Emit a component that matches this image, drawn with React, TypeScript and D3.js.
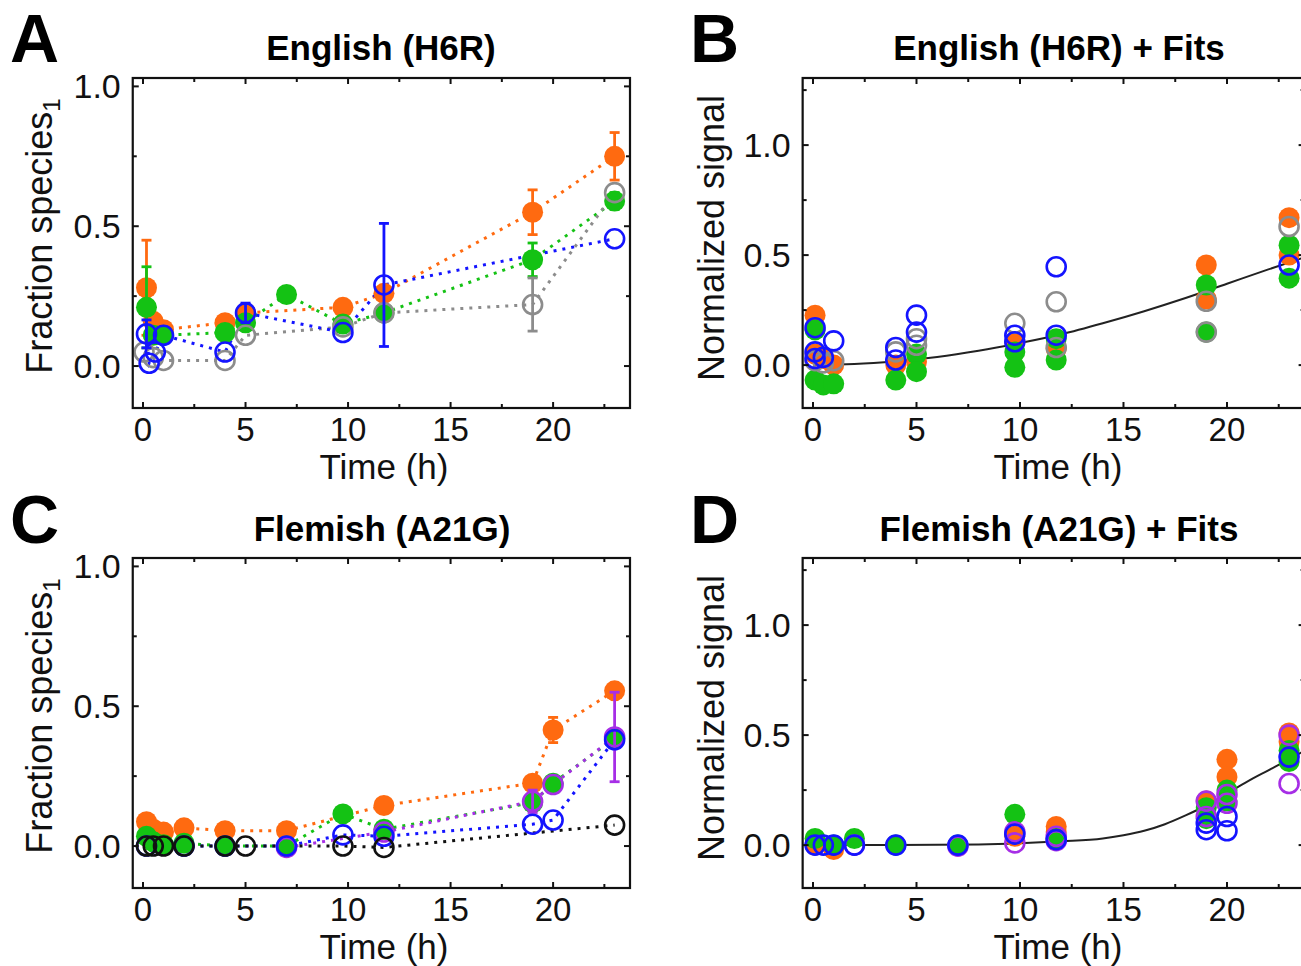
import React from "react";
import * as d3 from "d3";

const FONT = "'Liberation Sans', Arial, Helvetica, sans-serif";

const ORANGE = "#ff6a10";
const GREEN = "#14c214";
const BLUE = "#1414ff";
const GRAY = "#8c8c8c";
const PURPLE = "#a62ee6";
const BLACK = "#111111";

// ---------- Panel A : English (H6R) ----------
const aOrangeT = [0.17, 0.5, 1, 4, 5, 9.75, 11.75, 19, 23];
const aOrangeV = [0.28, 0.16, 0.13, 0.155, 0.19, 0.21, 0.26, 0.55, 0.75];
const aOrangeE = [0.17, 0, 0, 0, 0, 0, 0, 0.08, 0.085];
const aGreenT = [0.17, 0.5, 1, 4, 5, 7, 9.75, 11.75, 19, 23];
const aGreenV = [0.21, 0.11, 0.11, 0.12, 0.155, 0.256, 0.15, 0.19, 0.38, 0.59];
const aGreenE = [0.145, 0, 0, 0, 0.02, 0, 0, 0, 0.06, 0.03];
const aGrayT = [0.05, 0.5, 1, 4, 5, 9.75, 11.75, 19, 23];
const aGrayV = [0.05, 0.03, 0.02, 0.02, 0.11, 0.14, 0.19, 0.22, 0.62];
const aGrayE = [0, 0, 0, 0, 0, 0, 0, 0.095, 0];
const aBlueT = [0.17, 0.3, 0.6, 1, 4, 5, 9.75, 11.75, 23];
const aBlueV = [0.115, 0.01, 0.05, 0.11, 0.05, 0.19, 0.12, 0.29, 0.455];
const aBlueE = [0.05, 0, 0, 0, 0, 0.035, 0, 0.22, 0];

// ---------- Panel B : English (H6R) + Fits ----------
const bOrangeT = [0.1, 0.1, 0.5, 1, 4, 5, 9.75, 11.75, 19, 19, 23, 23];
const bOrangeV = [0.227, 0.05, 0.03, 0.0, 0.0, 0.015, 0.105, 0.076, 0.455, 0.3, 0.67, 0.5];
const bGreenT = [0.1, 0.1, 0.5, 1, 4, 5, 5, 9.75, 9.75, 11.75, 11.75, 19, 19, 23, 23];
const bGreenV = [0.16, -0.068, -0.09, -0.085, -0.068, 0.05, -0.03, 0.06, -0.01, 0.12, 0.023, 0.364, 0.15, 0.545, 0.395];
const bGrayT = [0.1, 0.5, 1, 4, 5, 5, 9.75, 11.75, 11.75, 19, 19, 23];
const bGrayV = [0.02, 0.01, 0.02, 0.06, 0.12, 0.09, 0.19, 0.288, 0.08, 0.29, 0.15, 0.63];
const bBlueT = [0.1, 0.1, 0.1, 0.5, 1, 4, 4, 5, 5, 9.75, 9.75, 11.75, 11.75, 23];
const bBlueV = [0.17, 0.06, 0.03, 0.035, 0.11, 0.08, 0.023, 0.227, 0.15, 0.136, 0.106, 0.447, 0.136, 0.455];
const bFitT = [0, 2, 4, 6, 8, 10, 12, 14, 16, 18, 20, 22, 23.75];
const bFitV = [0, 0.005, 0.018, 0.037, 0.065, 0.1, 0.14, 0.19, 0.245, 0.305, 0.37, 0.435, 0.49];

// ---------- Panel C : Flemish (A21G) ----------
const cOrangeT = [0.17, 0.5, 1, 2, 4, 7, 11.75, 19, 20, 23];
const cOrangeV = [0.087, 0.06, 0.05, 0.065, 0.055, 0.055, 0.145, 0.225, 0.415, 0.555];
const cOrangeE = [0, 0, 0, 0, 0, 0, 0, 0, 0.045, 0];
const cGreenT = [0.17, 0.5, 1, 2, 4, 7, 9.75, 11.75, 19, 20, 23];
const cGreenV = [0.035, 0.015, 0.005, 0.01, 0.0, 0.0, 0.115, 0.06, 0.155, 0.225, 0.385];
const cPurpleT = [7, 11.75, 19, 20, 23];
const cPurpleV = [-0.005, 0.05, 0.16, 0.22, 0.39];
const cPurpleE = [0, 0, 0.04, 0, 0.16];
const cBlueT = [0.17, 2, 4, 7, 9.75, 11.75, 19, 20, 23];
const cBlueV = [0, 0, 0, 0, 0.04, 0.035, 0.078, 0.093, 0.38];
const cBlackT = [0.17, 0.5, 1, 2, 4, 5, 9.75, 11.75, 23];
const cBlackV = [0, 0, 0, 0, 0, 0, 0.0, -0.005, 0.075];

// ---------- Panel D : Flemish (A21G) + Fits ----------
const dOrangeT = [0.1, 1, 9.75, 11.75, 11.75, 19, 20, 20, 23, 23];
const dOrangeV = [0.0, -0.02, 0.04, 0.085, 0.06, 0.2, 0.39, 0.31, 0.51, 0.47];
const dGreenT = [0.1, 1, 2, 4, 7, 9.75, 11.75, 19, 19, 20, 20, 23, 23];
const dGreenV = [0.03, 0.0, 0.03, 0.0, 0.0, 0.14, 0.03, 0.17, 0.12, 0.25, 0.2, 0.43, 0.38];
const dPurpleT = [2, 7, 9.75, 9.75, 11.75, 11.75, 19, 19, 20, 20, 23, 23];
const dPurpleV = [0.0, -0.005, 0.06, 0.01, 0.04, 0.02, 0.2, 0.13, 0.23, 0.19, 0.5, 0.28];
const dBlueT = [0.1, 0.5, 1, 2, 4, 7, 9.75, 11.75, 19, 19, 20, 20, 23];
const dBlueV = [0.0, 0.0, 0.0, 0.0, 0.0, 0.0, 0.05, 0.025, 0.07, 0.1, 0.13, 0.065, 0.4];
const dFitT = [0, 4, 8, 10, 12, 14, 15, 16, 17, 18, 19, 20, 21, 22, 23, 23.75];
const dFitV = [0, 0, 0.003, 0.008, 0.017, 0.03, 0.045, 0.065, 0.095, 0.135, 0.18, 0.235, 0.29, 0.34, 0.39, 0.43];

// ---------- Axes ----------
const xMajorTicks = [0, 5, 10, 15, 20];
const xMinorTicks = [2.5, 7.5, 12.5, 17.5, 22.5];
const fracMajorTicks = [0, 0.5, 1.0];
const fracMinorTicks = [0.25, 0.75];
const normMajorTicks = [0, 0.5, 1.0];
const normMinorTicks = [0.25, 0.75, 1.25];

type Series = {
  t: number[];
  v: number[];
  e?: number[];
  color: string;
  filled: boolean;
  connect: boolean;
};

type PanelCfg = {
  xRange: [number, number];
  yRange: [number, number];
  xDomain: [number, number];
  yDomain: [number, number];
  yMajor: number[];
  yMinor: number[];
  title: string;
  titleX: number;
  titleY: number;
  letter: string;
  letterX: number;
  letterY: number;
  yLabel: string;
  ySub?: string;
  yLabelX: number;
  yLabelY: number;
  xLabelX: number;
  xLabelY: number;
  series: Series[];
  fitT?: number[];
  fitV?: number[];
};

const Panel: React.FC<{ cfg: PanelCfg }> = ({ cfg }) => {
  const x = d3.scaleLinear().domain(cfg.xDomain).range(cfg.xRange);
  const y = d3.scaleLinear().domain(cfg.yDomain).range(cfg.yRange);
  const [L, R] = cfg.xRange;
  const [B, T] = cfg.yRange;
  const lineGen = d3
    .line<[number, number]>()
    .x((d) => x(d[0]))
    .y((d) => y(d[1]));
  const fitGen = d3
    .line<[number, number]>()
    .x((d) => x(d[0]))
    .y((d) => y(d[1]))
    .curve(d3.curveMonotoneX);

  const tickW = 2;
  const major = 6;
  const minor = 4;

  return (
    <g>
      <text x={cfg.letterX} y={cfg.letterY} fontSize={68} fontWeight="bold" fontFamily={FONT}>
        {cfg.letter}
      </text>
      <text x={cfg.titleX} y={cfg.titleY} fontSize={35} fontWeight="bold" fontFamily={FONT} textAnchor="middle">
        {cfg.title}
      </text>

      {cfg.series
        .filter((s) => s.connect)
        .map((s, i) => (
          <path
            key={"l" + i}
            d={lineGen(s.t.map((t, j) => [t, s.v[j]] as [number, number])) || ""}
            fill="none"
            stroke={s.color}
            strokeWidth={3}
            strokeDasharray="3 6"
          />
        ))}

      {cfg.fitT && cfg.fitV && (
        <path
          d={fitGen(cfg.fitT.map((t, j) => [t, cfg.fitV![j]] as [number, number])) || ""}
          fill="none"
          stroke="#222"
          strokeWidth={2}
        />
      )}

      {cfg.series.map((s, i) => (
        <g key={"s" + i}>
          {s.e &&
            s.t.map((t, j) =>
              s.e![j] > 0 ? (
                <g key={"e" + j} stroke={s.color} strokeWidth={2.8}>
                  <line x1={x(t)} x2={x(t)} y1={y(s.v[j] - s.e![j])} y2={y(s.v[j] + s.e![j])} />
                  <line x1={x(t) - 5} x2={x(t) + 5} y1={y(s.v[j] + s.e![j])} y2={y(s.v[j] + s.e![j])} />
                  <line x1={x(t) - 5} x2={x(t) + 5} y1={y(s.v[j] - s.e![j])} y2={y(s.v[j] - s.e![j])} />
                </g>
              ) : null
            )}
          {s.t.map((t, j) =>
            s.filled ? (
              <circle key={"m" + j} cx={x(t)} cy={y(s.v[j])} r={10.5} fill={s.color} />
            ) : (
              <circle key={"m" + j} cx={x(t)} cy={y(s.v[j])} r={9.5} fill="none" stroke={s.color} strokeWidth={2.6} />
            )
          )}
        </g>
      ))}

      <rect x={L} y={T} width={R - L} height={B - T} fill="none" stroke="#111" strokeWidth={2.2} />

      {xMajorTicks.map((t) => (
        <g key={"xm" + t} stroke="#111" strokeWidth={tickW}>
          <line x1={x(t)} x2={x(t)} y1={B} y2={B - major} />
          <line x1={x(t)} x2={x(t)} y1={T} y2={T + major} />
        </g>
      ))}
      {xMinorTicks.map((t) => (
        <g key={"xn" + t} stroke="#111" strokeWidth={tickW}>
          <line x1={x(t)} x2={x(t)} y1={B} y2={B - minor} />
          <line x1={x(t)} x2={x(t)} y1={T} y2={T + minor} />
        </g>
      ))}
      {xMajorTicks.map((t) => (
        <text key={"xl" + t} x={x(t)} y={B + 33} fontSize={33} fontFamily={FONT} textAnchor="middle" fill="#111">
          {String(t)}
        </text>
      ))}

      {cfg.yMajor.map((v) => (
        <g key={"ym" + v} stroke="#111" strokeWidth={tickW}>
          <line x1={L} x2={L + major} y1={y(v)} y2={y(v)} />
          <line x1={R} x2={R - major} y1={y(v)} y2={y(v)} />
        </g>
      ))}
      {cfg.yMinor.map((v) => (
        <g key={"yn" + v} stroke="#111" strokeWidth={tickW}>
          <line x1={L} x2={L + minor} y1={y(v)} y2={y(v)} />
          <line x1={R} x2={R - minor} y1={y(v)} y2={y(v)} />
        </g>
      ))}
      {cfg.yMajor.map((v) => (
        <text key={"yl" + v} x={L - 12} y={y(v) + 12} fontSize={34} fontFamily={FONT} textAnchor="end" fill="#111">
          {v.toFixed(1)}
        </text>
      ))}

      <text x={cfg.xLabelX} y={cfg.xLabelY} fontSize={35} fontFamily={FONT} textAnchor="middle" fill="#111">
        Time (h)
      </text>
      <text
        transform={`translate(${cfg.yLabelX},${cfg.yLabelY}) rotate(-90)`}
        fontSize={36}
        fontFamily={FONT}
        textAnchor="middle"
        fill="#111"
      >
        {cfg.yLabel}
        {cfg.ySub && (
          <tspan fontSize={24} dy={8}>
            {cfg.ySub}
          </tspan>
        )}
      </text>
    </g>
  );
};

const xDom: [number, number] = [-0.5, 23.75];
const fracDom: [number, number] = [-0.15, 1.03];
const normDom: [number, number] = [-0.195, 1.305];

const panels: PanelCfg[] = [
  {
    xRange: [132.75, 630],
    yRange: [408, 78],
    xDomain: xDom,
    yDomain: fracDom,
    yMajor: fracMajorTicks,
    yMinor: fracMinorTicks,
    title: "English (H6R)",
    titleX: 381,
    titleY: 60,
    letter: "A",
    letterX: 10,
    letterY: 62,
    yLabel: "Fraction species",
    ySub: "1",
    yLabelX: 52,
    yLabelY: 236,
    xLabelX: 384,
    xLabelY: 479,
    series: [
      { t: aOrangeT, v: aOrangeV, e: aOrangeE, color: ORANGE, filled: true, connect: true },
      { t: aGreenT, v: aGreenV, e: aGreenE, color: GREEN, filled: true, connect: true },
      { t: aGrayT, v: aGrayV, e: aGrayE, color: GRAY, filled: false, connect: true },
      { t: aBlueT, v: aBlueV, e: aBlueE, color: BLUE, filled: false, connect: true },
    ],
  },
  {
    xRange: [802.65, 1304.6],
    yRange: [408, 78],
    xDomain: xDom,
    yDomain: normDom,
    yMajor: normMajorTicks,
    yMinor: normMinorTicks,
    title: "English (H6R) + Fits",
    titleX: 1059,
    titleY: 60,
    letter: "B",
    letterX: 690,
    letterY: 62,
    yLabel: "Normalized signal",
    yLabelX: 724,
    yLabelY: 238,
    xLabelX: 1058,
    xLabelY: 479,
    series: [
      { t: bOrangeT, v: bOrangeV, color: ORANGE, filled: true, connect: false },
      { t: bGreenT, v: bGreenV, color: GREEN, filled: true, connect: false },
      { t: bGrayT, v: bGrayV, color: GRAY, filled: false, connect: false },
      { t: bBlueT, v: bBlueV, color: BLUE, filled: false, connect: false },
    ],
    fitT: bFitT,
    fitV: bFitV,
  },
  {
    xRange: [132.75, 630],
    yRange: [888, 558],
    xDomain: xDom,
    yDomain: fracDom,
    yMajor: fracMajorTicks,
    yMinor: fracMinorTicks,
    title: "Flemish (A21G)",
    titleX: 382,
    titleY: 541,
    letter: "C",
    letterX: 10,
    letterY: 543,
    yLabel: "Fraction species",
    ySub: "1",
    yLabelX: 52,
    yLabelY: 716,
    xLabelX: 384,
    xLabelY: 959,
    series: [
      { t: cOrangeT, v: cOrangeV, e: cOrangeE, color: ORANGE, filled: true, connect: true },
      { t: cGreenT, v: cGreenV, color: GREEN, filled: true, connect: true },
      { t: cPurpleT, v: cPurpleV, e: cPurpleE, color: PURPLE, filled: false, connect: true },
      { t: cBlueT, v: cBlueV, color: BLUE, filled: false, connect: true },
      { t: cBlackT, v: cBlackV, color: BLACK, filled: false, connect: true },
    ],
  },
  {
    xRange: [802.65, 1304.6],
    yRange: [888, 558],
    xDomain: xDom,
    yDomain: normDom,
    yMajor: normMajorTicks,
    yMinor: normMinorTicks,
    title: "Flemish (A21G) + Fits",
    titleX: 1059,
    titleY: 541,
    letter: "D",
    letterX: 690,
    letterY: 543,
    yLabel: "Normalized signal",
    yLabelX: 724,
    yLabelY: 718,
    xLabelX: 1058,
    xLabelY: 959,
    series: [
      { t: dOrangeT, v: dOrangeV, color: ORANGE, filled: true, connect: false },
      { t: dGreenT, v: dGreenV, color: GREEN, filled: true, connect: false },
      { t: dPurpleT, v: dPurpleV, color: PURPLE, filled: false, connect: false },
      { t: dBlueT, v: dBlueV, color: BLUE, filled: false, connect: false },
    ],
    fitT: dFitT,
    fitV: dFitV,
  },
];

export default function App() {
  return (
    <div style={{ position: "absolute", left: 0, top: 0, width: 1301, height: 966, background: "#fff" }}>
      <svg width={1301} height={966} viewBox="0 0 1301 966" style={{ display: "block" }}>
        <rect x={0} y={0} width={1301} height={966} fill="#fff" />
        {panels.map((p, i) => (
          <Panel key={i} cfg={p} />
        ))}
      </svg>
    </div>
  );
}
